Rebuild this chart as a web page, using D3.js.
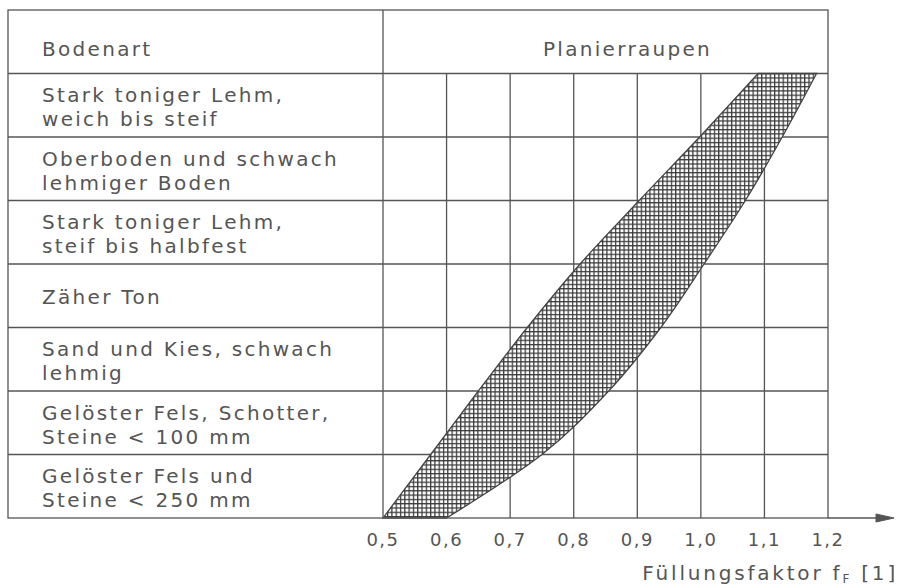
<!DOCTYPE html>
<html>
<head>
<meta charset="utf-8">
<script src="https://cdn.jsdelivr.net/npm/d3@7/dist/d3.min.js"></script>
<style>
  html, body { margin: 0; padding: 0; background: #fff; }
  svg { display: block; }
  text { font-family: "DejaVu Sans", sans-serif; fill: #555; }
</style>
</head>
<body>
<svg id="chart" width="902" height="588"></svg>
<script>
// ---- data ----
const headerLeft = "Bodenart";
const headerRight = "Planierraupen";
const soilTypes = [
  ["Stark toniger Lehm,", "weich bis steif"],
  ["Oberboden und schwach", "lehmiger Boden"],
  ["Stark toniger Lehm,", "steif bis halbfest"],
  ["Zäher Ton"],
  ["Sand und Kies, schwach", "lehmig"],
  ["Gelöster Fels, Schotter,", "Steine < 100 mm"],
  ["Gelöster Fels und", "Steine < 250 mm"]
];
const xTicks = [0.5, 0.6, 0.7, 0.8, 0.9, 1.0, 1.1, 1.2];
const xTickLabels = ["0,5", "0,6", "0,7", "0,8", "0,9", "1,0", "1,1", "1,2"];
// band boundaries at row borders, from bottom border (level 0) to top of first soil row (level 7)
const bandLevels = [0, 1, 2, 3, 4, 5, 6, 7];
const fFmin = [0.50, 0.575, 0.65, 0.727, 0.81, 0.903, 0.998, 1.09];
const fFmax = [0.60, 0.75, 0.855, 0.937, 1.005, 1.07, 1.128, 1.182];
const axisTitle = "Füllungsfaktor";

// ---- layout ----
(function () {
const svg = d3.select("#chart");
const lineColor = "#555";
const L = 8, T = 10, R = 828, B = 518;
const x = d3.scaleLinear().domain([0.5, 1.2]).range([383, R]);
const nRows = soilTypes.length + 1;
const yRow = d3.scaleLinear().domain([0, nRows]).range([T, B]);
const yLevel = d3.scaleLinear().domain([0, soilTypes.length]).range([B, yRow(1)]);

// hatch pattern
const P = 4.3;
const defs = svg.append("defs");
const pat = defs.append("pattern").attr("id", "hatch")
  .attr("patternUnits", "userSpaceOnUse").attr("width", P).attr("height", P);
pat.append("rect").attr("width", P).attr("height", P).attr("fill", "#fff");
pat.append("line").attr("x1", 0).attr("y1", 0.6).attr("x2", P).attr("y2", 0.6)
  .attr("stroke", "#3a3a3a").attr("stroke-width", 1.3);
pat.append("line").attr("x1", 0.6).attr("y1", 0).attr("x2", 0.6).attr("y2", P)
  .attr("stroke", "#3a3a3a").attr("stroke-width", 1.3);

// grid: vertical lines inside plot (below header)
const g = svg.append("g").attr("stroke", lineColor).attr("stroke-width", 1.3).attr("fill", "none");
xTicks.slice(1, -1).forEach(t => {
  g.append("line").attr("x1", x(t)).attr("x2", x(t)).attr("y1", yRow(1)).attr("y2", B);
});
// horizontal row lines
d3.range(1, nRows).forEach(i => {
  g.append("line").attr("x1", L).attr("x2", R).attr("y1", yRow(i)).attr("y2", yRow(i));
});

// band
const bandData = bandLevels.map((l, i) => ({ l, lo: fFmin[i], hi: fFmax[i] }));
const area = d3.area()
  .y(d => yLevel(d.l))
  .x0(d => x(d.lo))
  .x1(d => x(d.hi))
  .curve(d3.curveMonotoneY);
svg.append("path").datum(bandData).attr("d", area)
  .attr("fill", "url(#hatch)").attr("stroke", "#444").attr("stroke-width", 1.3);

// divider and outer border
const g2 = svg.append("g").attr("stroke", lineColor).attr("stroke-width", 1.3).attr("fill", "none");
g2.append("line").attr("x1", x(0.5)).attr("x2", x(0.5)).attr("y1", T).attr("y2", B);
g2.append("rect").attr("x", L).attr("y", T).attr("width", R - L).attr("height", B - T);

// x-axis arrow
svg.append("line").attr("x1", R).attr("x2", 880).attr("y1", B).attr("y2", B)
  .attr("stroke", lineColor).attr("stroke-width", 1.3);
svg.append("path").attr("d", `M876,${B - 4}L894,${B}L876,${B + 4}Z`)
  .attr("fill", "#555").attr("stroke", "#555").attr("stroke-width", 1);

// texts
const fs = 20, ls = 2.3;
svg.append("text").attr("x", 42).attr("y", 56).attr("font-size", fs)
  .attr("letter-spacing", ls).text(headerLeft);
svg.append("text").attr("x", 543).attr("y", 56).attr("font-size", fs)
  .attr("letter-spacing", ls).text(headerRight);

soilTypes.forEach((lines, i) => {
  const mid = (yRow(i + 1) + yRow(i + 2)) / 2;
  const base = lines.length === 1 ? [mid + 8] : [mid - 3, mid + 21];
  lines.forEach((s, j) => {
    svg.append("text").attr("x", 42).attr("y", base[j]).attr("font-size", fs)
      .attr("letter-spacing", ls).text(s);
  });
});

// tick labels
xTicks.forEach((t, i) => {
  svg.append("text").attr("x", x(t)).attr("y", 546).attr("text-anchor", "middle")
    .attr("font-size", 18).attr("letter-spacing", 1.5).text(xTickLabels[i]);
});

// axis title
const at = svg.append("text").attr("x", 898).attr("y", 580).attr("text-anchor", "end")
  .attr("font-size", fs).attr("letter-spacing", 2.8);
at.append("tspan").text(axisTitle + " f");
at.append("tspan").attr("font-size", 12).attr("dy", 3).text("F");
at.append("tspan").attr("dy", -3).text(" [1]");
})();
</script>
</body>
</html>
